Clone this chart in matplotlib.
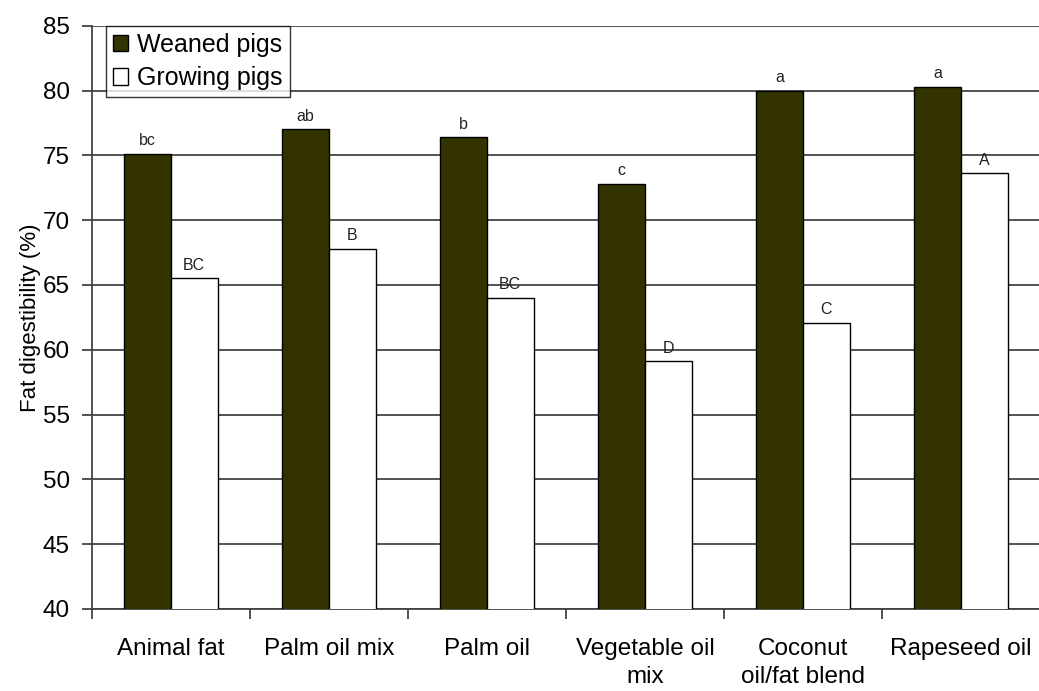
import matplotlib
matplotlib.use("Agg")
import matplotlib.pyplot as plt
import numpy as np

categories = ["Animal fat", "Palm oil mix", "Palm oil", "Vegetable oil\nmix",
              "Coconut\noil/fat blend", "Rapeseed oil"]
weaned = [75.1, 77.0, 76.4, 72.8, 80.0, 80.3]
growing = [65.5, 67.8, 64.0, 59.1, 62.1, 73.6]
weaned_letters = ["bc", "ab", "b", "c", "a", "a"]
growing_letters = ["BC", "B", "BC", "D", "C", "A"]
yticks = [40, 45, 50, 55, 60, 65, 70, 75, 80, 85]

plt.rcParams['font.family'] = ['Liberation Sans', 'DejaVu Sans']

fig = plt.figure(figsize=(10.39, 6.91), dpi=100)
ax = fig.add_axes([0.0885, 0.1187, 0.9124, 0.8441])

x = np.arange(len(categories))
w = 0.295
b1 = ax.bar(x - w / 2, weaned, w, color="#333300", edgecolor="#000000",
            linewidth=1.0, label="Weaned pigs", zorder=3)
b2 = ax.bar(x + w / 2, growing, w, color="#ffffff", edgecolor="#000000",
            linewidth=1.0, label="Growing pigs", zorder=3)

for rect, lab in zip(b1, weaned_letters):
    ax.annotate(lab, (rect.get_x() + rect.get_width() / 2, rect.get_height()),
                xytext=(0, 4), textcoords="offset points", ha="center",
                va="bottom", fontsize=11.5, color="#222222")
for rect, lab in zip(b2, growing_letters):
    ax.annotate(lab, (rect.get_x() + rect.get_width() / 2, rect.get_height()),
                xytext=(0, 4), textcoords="offset points", ha="center",
                va="bottom", fontsize=11.5, color="#222222")

ax.set_ylim(40, 85)
ax.set_xlim(-0.5, len(categories) - 0.5)
ax.set_yticks(yticks)
ax.yaxis.grid(True, color="#444444", linewidth=1.3, zorder=0)
ax.set_axisbelow(True)

ax.set_xticks(x)
ax.set_xticklabels(categories, fontsize=17.5, linespacing=1.35)
ax.tick_params(axis="x", which="major", length=0, pad=21)
ax.set_xticks(np.arange(-0.5, len(categories), 1.0), minor=True)
ax.tick_params(axis="x", which="minor", length=7, width=1.3, color="#444444",
               direction="out")
ax.tick_params(axis="y", length=7, width=1.3, color="#444444", labelsize=17.5,
               pad=9)

for s in ["top", "right"]:
    ax.spines[s].set_visible(False)
for s in ["left", "bottom"]:
    ax.spines[s].set_color("#444444")
    ax.spines[s].set_linewidth(1.3)

ax.set_ylabel("Fat digestibility (%)", fontsize=16, labelpad=1)

leg = ax.legend(loc="upper left", bbox_to_anchor=(0.0148, 1.0), fontsize=18,
                frameon=True, fancybox=False, edgecolor="#000000",
                handlelength=0.62, handleheight=0.62, handletextpad=0.35,
                borderpad=0.28, labelspacing=0.38, borderaxespad=0.0)
leg.get_frame().set_linewidth(1.0)

fig.savefig("out.png", dpi=100, facecolor="white")
